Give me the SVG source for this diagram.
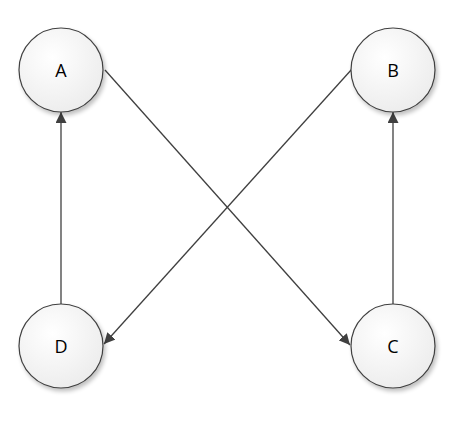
<svg xmlns="http://www.w3.org/2000/svg" width="461" height="422" viewBox="0 0 461 422">
<defs>
<radialGradient id="g" cx="0.4" cy="0.35" r="0.7">
<stop offset="0" stop-color="#ffffff"/>
<stop offset="1" stop-color="#ececec"/>
</radialGradient>
<filter id="sh" x="-20%" y="-20%" width="150%" height="150%">
<feGaussianBlur in="SourceAlpha" stdDeviation="2"/>
<feOffset dx="2" dy="3"/>
<feComponentTransfer><feFuncA type="linear" slope="0.25"/></feComponentTransfer>
<feMerge><feMergeNode/><feMergeNode in="SourceGraphic"/></feMerge>
</filter>
<marker id="arr" viewBox="0 0 10 10" refX="10" refY="5" markerWidth="11" markerHeight="11" markerUnits="userSpaceOnUse" orient="auto">
<path d="M0,0 L10,5 L0,10 z" fill="#404040"/>
</marker>
</defs>
<style>
.n circle{fill:url(#g);stroke:#404040;stroke-width:1.2;filter:url(#sh)}
.n text{font-family:"Open Sans","Liberation Sans",Arial,sans-serif;font-size:18px;fill:#000;text-anchor:middle;dominant-baseline:central}
.e line{stroke:#404040;stroke-width:1.3;marker-end:url(#arr)}
</style>
<rect width="461" height="422" fill="#fff"/>
<g class="e" id="connectors">
<line x1="61" y1="304" x2="61" y2="112"/>
<line x1="393" y1="304" x2="393" y2="112"/>
<line x1="105" y1="70" x2="350" y2="345"/>
<line x1="352" y1="69" x2="104" y2="344"/>
</g>
<g class="n" id="A"><circle cx="61" cy="70" r="42"/><text x="61" y="70">A</text></g>
<g class="n" id="B"><circle cx="393" cy="70" r="42"/><text x="393" y="70">B</text></g>
<g class="n" id="D"><circle cx="61" cy="346" r="42"/><text x="61" y="346">D</text></g>
<g class="n" id="C"><circle cx="393" cy="346" r="42"/><text x="393" y="346">C</text></g>
</svg>
